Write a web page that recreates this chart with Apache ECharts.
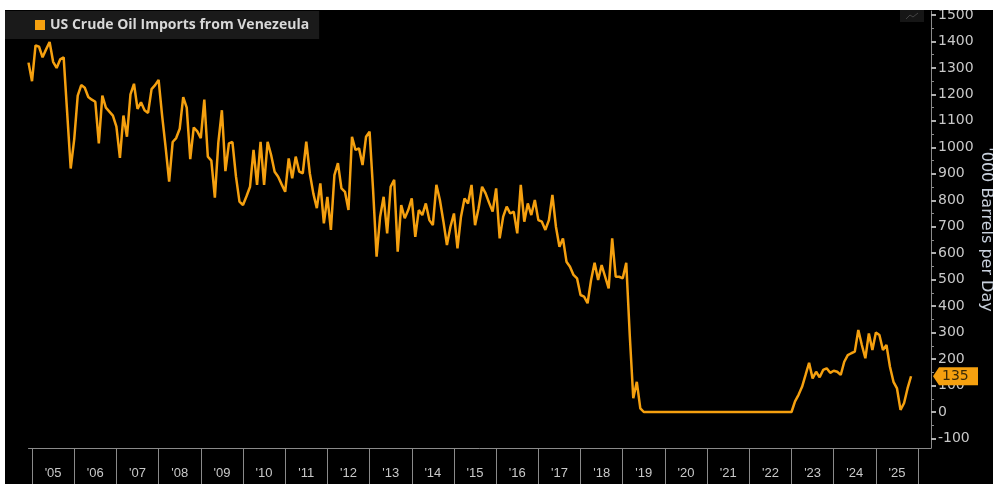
<!DOCTYPE html>
<html><head><meta charset="utf-8">
<script src="https://cdn.jsdelivr.net/npm/echarts@6/dist/echarts.min.js"></script>
<style>
html,body{margin:0;padding:0;background:#fff;width:993px;height:484px;overflow:hidden;}
#c{position:absolute;left:5px;top:10px;width:988px;height:474px;background:#000;}
</style></head><body><div id="c"></div>
<script>
const seriesName = 'US Crude Oil Imports from Venezeula';
const axisTitle = "'000 Barrels per Day";
const firstYear = 2005;
const yearLabels = ["'05","'06","'07","'08","'09","'10","'11","'12","'13","'14","'15","'16","'17","'18","'19","'20","'21","'22","'23","'24","'25"];
const yTicks = [-100,0,100,200,300,400,500,600,700,800,900,1000,1100,1200,1300,1400,1500];
const yMinorTicks = [-50,50,150,250,350,450,550,650,750,850,950,1050,1150,1250,1350,1450];
const startYear = 2004, startMonth = 12;

const v2004 = [1320];
const v2005 = [1250, 1385, 1380, 1340, 1370, 1398, 1323, 1300, 1332, 1340, 1130, 920];
const v2006 = [1030, 1195, 1235, 1225, 1190, 1180, 1172, 1015, 1195, 1150, 1135, 1120];
const v2007 = [1078, 960, 1120, 1040, 1200, 1240, 1145, 1170, 1140, 1130, 1220, 1235];
const v2008 = [1255, 1120, 1000, 870, 1020, 1035, 1070, 1190, 1150, 955, 1075, 1060];
const v2009 = [1035, 1180, 965, 950, 810, 1020, 1140, 910, 1015, 1020, 890, 795];
const v2010 = [782, 815, 851, 990, 858, 1021, 858, 1021, 971, 908, 889, 860];
const v2011 = [832, 958, 883, 965, 908, 902, 1021, 902, 826, 770, 864, 713];
const v2012 = [813, 688, 895, 940, 845, 832, 763, 1040, 990, 996, 933, 1040];
const v2013 = [1059, 839, 587, 738, 813, 675, 851, 877, 606, 782, 732, 763];
const v2014 = [807, 662, 763, 744, 788, 725, 706, 858, 801, 720, 631, 700];
const v2015 = [750, 618, 738, 807, 788, 858, 706, 770, 851, 826, 790, 757];
const v2016 = [845, 656, 738, 776, 750, 757, 675, 858, 719, 788, 744, 801];
const v2017 = [725, 719, 688, 725, 820, 700, 624, 656, 568, 549, 518, 505];
const v2018 = [442, 436, 411, 499, 564, 499, 555, 511, 467, 656, 511, 511];
const v2019 = [505, 564, 290, 52, 114, 14, 0, 0, 0, 0, 0, 0];
const v2020 = [0, 0, 0, 0, 0, 0, 0, 0, 0, 0, 0, 0];
const v2021 = [0, 0, 0, 0, 0, 0, 0, 0, 0, 0, 0, 0];
const v2022 = [0, 0, 0, 0, 0, 0, 0, 0, 0, 0, 0, 0];
const v2023 = [0, 40, 65, 95, 140, 186, 127, 152, 131, 159, 165, 148];
const v2024 = [156, 152, 140, 190, 215, 222, 228, 310, 253, 203, 297, 234];
const v2025 = [300, 291, 234, 253, 171, 114, 89, 8, 33, 89, 135];

const allValues = [].concat(v2004, v2005, v2006, v2007, v2008, v2009, v2010, v2011, v2012,
  v2013, v2014, v2015, v2016, v2017, v2018, v2019, v2020, v2021, v2022, v2023, v2024, v2025);
const t0 = startYear + (startMonth - 1) / 12;
const data = allValues.map((v, i) => [t0 + i / 12, v]);

const ORANGE = '#f5a00f';
const AXIS = '#8a8a8a';
const xMin = t0, xMax = 2026.306;
const yearBounds = yearLabels.map((_, i) => firstYear + i).concat([firstYear + yearLabels.length]);
const yearMids = yearLabels.map((_, i) => firstYear + i + 0.5);

const chart = echarts.init(document.getElementById('c'), null, {renderer: 'canvas'});
const gridRight = 62;
chart.setOption({
  backgroundColor: '#000',
  animation: false,
  grid: {left: 23.5, right: gridRight, top: 1, bottom: 36, containLabel: false, outerBoundsMode: 'none'},
  legend: {
    data: [seriesName], left: 0, top: 1, orient: 'horizontal',
    backgroundColor: '#1a1a1a', padding: [7, 10, 7, 30],
    itemWidth: 10, itemHeight: 10, icon: 'rect',
    textStyle: {color: '#d8d8d8', fontSize: 14, fontWeight: 'bold', fontFamily: 'Open Sans'}
  },
  xAxis: {
    type: 'value', min: xMin, max: xMax, position: 'bottom',
    axisLine: {show: true, onZero: false, lineStyle: {color: AXIS, width: 1}},
    axisTick: {show: true, customValues: yearBounds, length: 36, lineStyle: {color: AXIS, width: 1}},
    axisLabel: {show: true, customValues: yearMids, margin: 19, color: '#c8c8c8', fontSize: 13,
      fontFamily: 'Liberation Sans',
      formatter: v => yearLabels[Math.floor(v) - firstYear]},
    splitLine: {show: false}
  },
  yAxis: [{
    type: 'value', position: 'right', min: -136, max: 1515,
    axisLine: {show: true, lineStyle: {color: AXIS, width: 1}},
    axisTick: {show: true, customValues: yTicks, length: 5, lineStyle: {color: '#b0b0b0', width: 2}},
    axisLabel: {show: true, customValues: yTicks, margin: 7, color: '#c8c8c8', fontSize: 14, fontFamily: 'DejaVu Sans',
      formatter: v => String(v)},
    splitLine: {show: false},
    name: axisTitle, nameLocation: 'middle', nameRotate: -90, nameGap: 47, nameMoveOverlap: false,
    nameTextStyle: {color: '#c8d0dc', fontSize: 16, fontFamily: 'DejaVu Sans'}
  }, {
    type: 'value', position: 'right', min: -136, max: 1515,
    axisLine: {show: false},
    axisTick: {show: true, customValues: yMinorTicks, length: 3, lineStyle: {color: AXIS, width: 1}},
    axisLabel: {show: false},
    splitLine: {show: false}
  }],
  series: [{
    name: seriesName, type: 'line', data: data, showSymbol: false, symbol: 'none',
    color: ORANGE, lineStyle: {color: ORANGE, width: 2.5}, yAxisIndex: 0
  }]
});

// last value tag on the axis
const last = data[data.length - 1];
const py = chart.convertToPixel({xAxisIndex: 0, yAxisIndex: 0}, last)[1];
const gx = chart.getWidth() - gridRight;
chart.setOption({
  graphic: [
    {type: 'polygon', shape: {points: [[gx + 2, py], [gx + 8, py - 9], [gx + 47, py - 9], [gx + 47, py + 9], [gx + 8, py + 9]]},
      style: {fill: ORANGE}, z: 100},
    {type: 'text', x: gx + 11, y: py, style: {text: String(last[1]), fill: '#3a2a08', font: '14px "DejaVu Sans"', verticalAlign: 'middle'}, z: 101},
    {type: 'rect', shape: {x: gx - 31, y: 0, width: 24, height: 12}, style: {fill: '#161616'}, z: 50},
    {type: 'polyline', shape: {points: [[gx - 25, 9], [gx - 21, 5], [gx - 18, 7], [gx - 13, 3]]}, style: {stroke: '#444', lineWidth: 1, fill: null}, z: 51}
  ]
});
</script></body></html>
